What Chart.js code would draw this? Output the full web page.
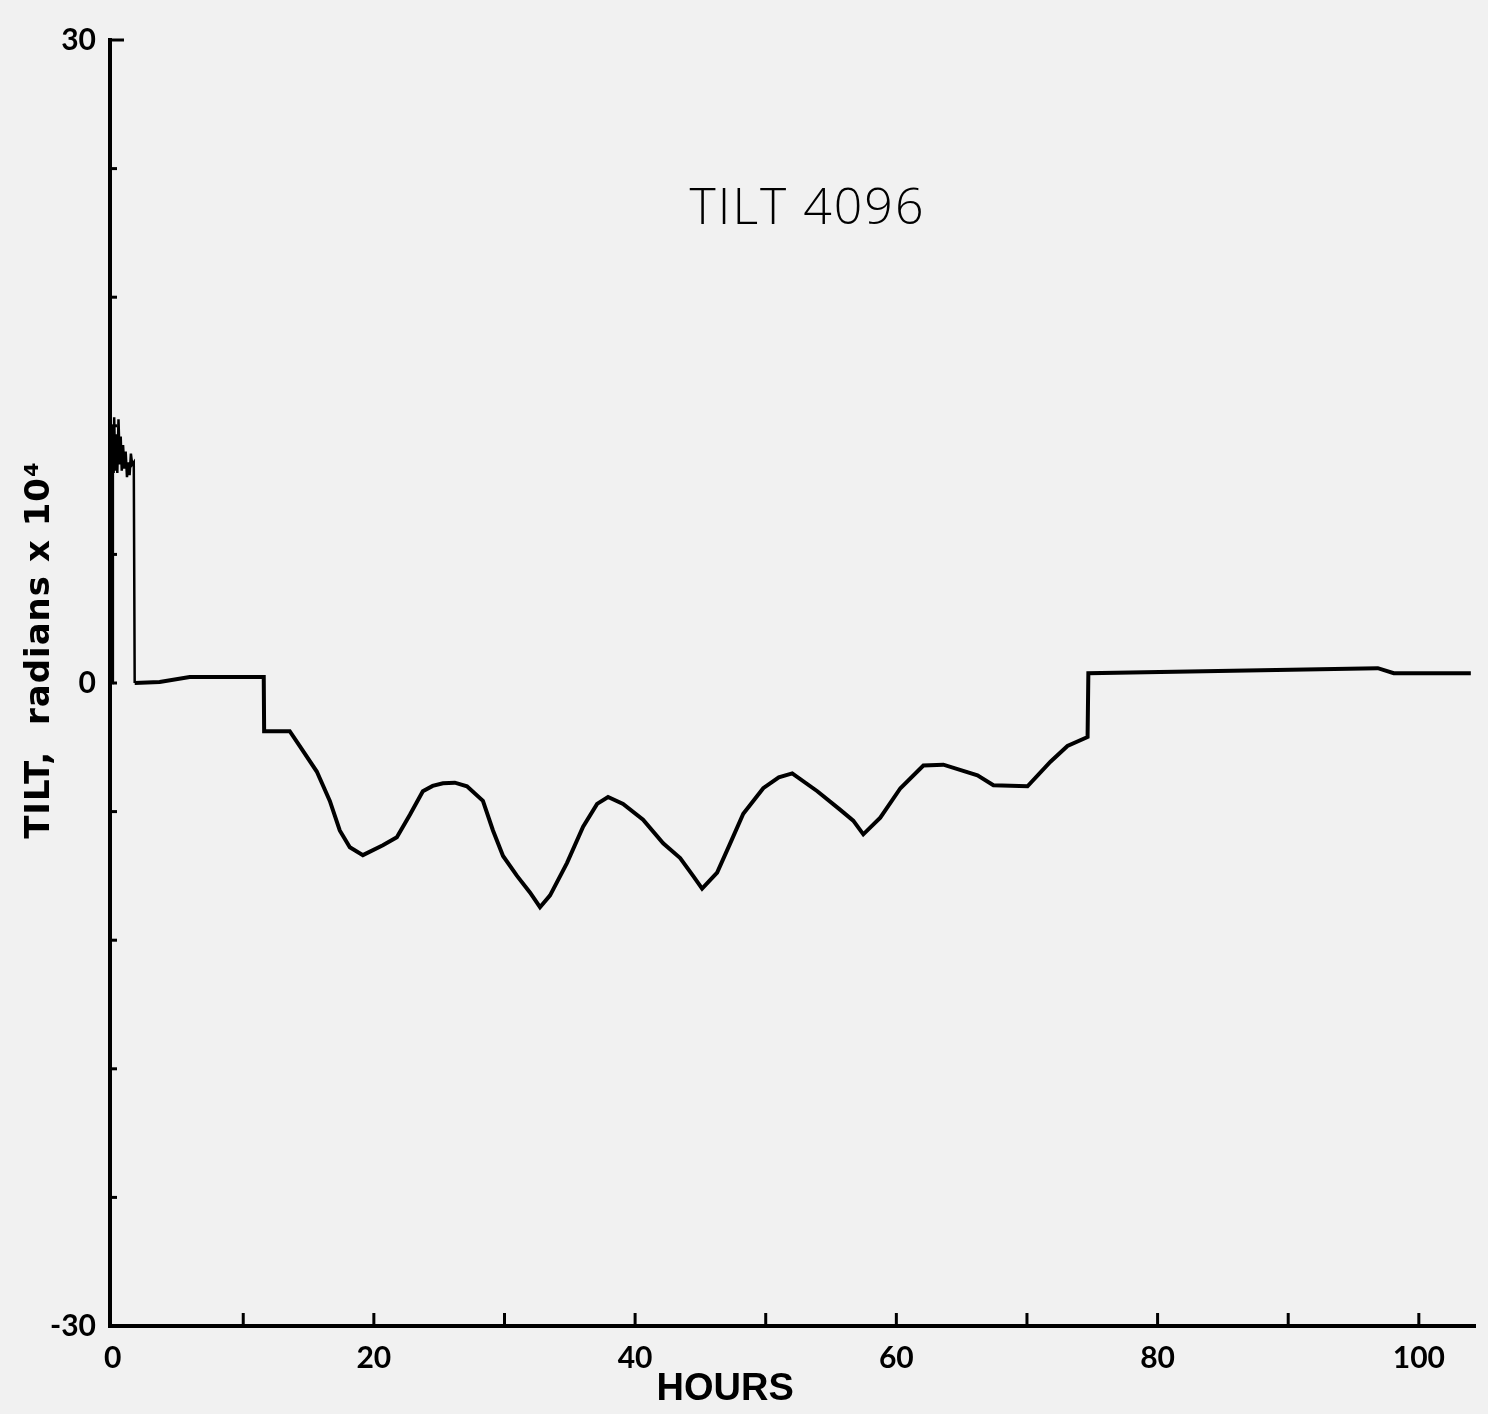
<!DOCTYPE html>
<html>
<head>
<meta charset="utf-8">
<script src="https://cdn.jsdelivr.net/npm/chart.js@4.4.1/dist/chart.umd.min.js"></script>
<style>
  html, body { margin: 0; padding: 0; background: #f1f1f1; }
  #wrap { width: 1488px; height: 1414px; position: relative; }
</style>
</head>
<body>
<div id="wrap"><canvas id="c" width="1488" height="1414"></canvas></div>
<script>
// ---- data ----
const hours = [0, 0.02, 0.08, 0.12, 0.2, 0.28, 0.36, 0.45, 0.55, 0.62,
  0.7, 0.8, 0.9, 1.0, 1.1, 1.2, 1.3, 1.4, 1.5, 1.62,
  1.69, 3.6, 5.9, 11.57,
  11.6, 13.56, 14.33, 15.63, 16.63, 17.39, 18.16, 19.16, 20.69, 21.76,
  22.76, 23.75, 24.5, 25.29, 26.2, 27.13, 28.35, 29.12, 29.89, 30.96, 31.95, 32.72,
  33.49, 34.79, 36.02, 37.09, 37.93, 39.08, 40.61, 42.15, 43.45, 44.44,
  45.13, 46.28, 47.28, 48.28, 49.81, 51.0, 52.03, 53.95, 55.71, 56.70, 57.47,
  58.77, 60.31, 62.07, 63.6, 66.21, 67.43, 70.04, 71.8, 73.1, 74.64,
  74.7, 96.86, 98.08, 103.98];
const tilt = [0, 12.0, 9.8, 12.4, 9.9, 11.6, 9.8, 12.3, 10.2, 11.5,
  9.9, 11.1, 10.0, 10.8, 9.6, 10.3, 9.7, 10.7, 10.2, 10.3,
  0, 0.05, 0.28, 0.28,
  -2.25, -2.25, -2.94, -4.13, -5.5, -6.88, -7.66, -8.03, -7.57, -7.2,
  -6.15, -5.05, -4.8, -4.68, -4.65, -4.82, -5.5, -6.88, -8.07, -9.0, -9.77, -10.46,
  -9.91, -8.39, -6.70, -5.64, -5.32, -5.64, -6.38, -7.48, -8.17, -9.0,
  -9.59, -8.85, -7.48, -6.1, -4.91, -4.4, -4.22, -5.05, -5.92, -6.42, -7.06,
  -6.28, -4.91, -3.85, -3.81, -4.31, -4.77, -4.82, -3.67, -2.94, -2.52,
  0.46, 0.69, 0.46, 0.46];
const xTickValues = [0, 10, 20, 30, 40, 50, 60, 70, 80, 90, 100];
const yLabelValues = [30, 0, -30];
const xLabelValues = [0, 20, 40, 60, 80, 100];
const chartTitle = 'TILT 4096';
const xTitle = 'HOURS';
const yTitle = 'TILT,  radians x 10\u2074';

const points = hours.map((h, i) => ({ x: h, y: tilt[i] }));

// inward tick marks + floating texts
const decor = {
  id: 'decor',
  afterDraw(chart) {
    const ctx = chart.ctx, xs = chart.scales.x, ys = chart.scales.y, a = chart.chartArea;
    ctx.save();
    ctx.strokeStyle = '#000';
    ctx.lineWidth = 3;
    ys.ticks.forEach(t => {
      const py = ys.getPixelForValue(t.value);
      const len = t.value === 30 ? 14 : 7;
      ctx.beginPath(); ctx.moveTo(a.left, py); ctx.lineTo(a.left + len, py); ctx.stroke();
    });
    xs.ticks.forEach(t => {
      if (t.value === 0) return;
      const px = xs.getPixelForValue(t.value);
      ctx.beginPath(); ctx.moveTo(px, a.bottom); ctx.lineTo(px, a.bottom - 13); ctx.stroke();
    });
    ctx.fillStyle = '#000';
    ctx.textAlign = 'center';
    ctx.textBaseline = 'middle';
    ctx.font = '300 50px "Open Sans", "DejaVu Sans", sans-serif';
    ctx.letterSpacing = '2px';
    ctx.fillText(chartTitle, xs.getPixelForValue(53.2), ys.getPixelForValue(22.1));
    ctx.letterSpacing = '0px';
    ctx.font = 'bold 38px "Liberation Sans Narrow", "Liberation Sans", sans-serif';
    ctx.fillText(xTitle, xs.getPixelForValue(46.9), a.bottom + 64);
    // rotated y-axis title
    ctx.translate(40, 650);
    ctx.rotate(-Math.PI / 2);
    ctx.font = 'bold 34px "DejaVu Sans", sans-serif';
    ctx.letterSpacing = '1px';
    ctx.fillText(yTitle, 0, 0);
    ctx.restore();
  }
};

new Chart(document.getElementById('c'), {
  type: 'line',
  data: {
    datasets: [{
      data: points,
      borderColor: '#000',
      borderWidth: 4,
      pointRadius: 0,
      tension: 0,
      fill: false,
      segment: {
        borderWidth: c => (c.p0.parsed.x < 1.65 ? 2.5 : 4)
      }
    }]
  },
  options: {
    responsive: false,
    animation: false,
    layout: { padding: { top: 40, right: 13, bottom: 0, left: 0 } },
    plugins: { legend: { display: false }, tooltip: { enabled: false }, title: { display: false } },
    scales: {
      x: {
        type: 'linear',
        min: -0.2, max: 104.3,
        afterFit(s) { s.height = 88; },
        afterBuildTicks(s) { s.ticks = xTickValues.map(v => ({ value: v })); },
        grid: { display: false, drawTicks: false },
        border: { display: true, color: '#000', width: 4 },
        ticks: {
          autoSkip: false, maxRotation: 0, padding: 14, color: '#000',
          font: { family: 'Lato, "DejaVu Sans", sans-serif', size: 30, weight: 'bold' },
          callback: v => (xLabelValues.includes(v) ? String(v) : '')
        }
      },
      y: {
        type: 'linear',
        min: -30, max: 30,
        afterFit(s) { s.width = 110; },
        grid: { display: false, drawTicks: false },
        border: { display: true, color: '#000', width: 4 },
        ticks: {
          stepSize: 6, autoSkip: false, padding: 14, color: '#000',
          font: { family: 'Lato, "DejaVu Sans", sans-serif', size: 30, weight: 'bold' },
          callback: v => (yLabelValues.includes(v) ? String(v) : '')
        }
      }
    }
  },
  plugins: [decor]
});
</script>
</body>
</html>
